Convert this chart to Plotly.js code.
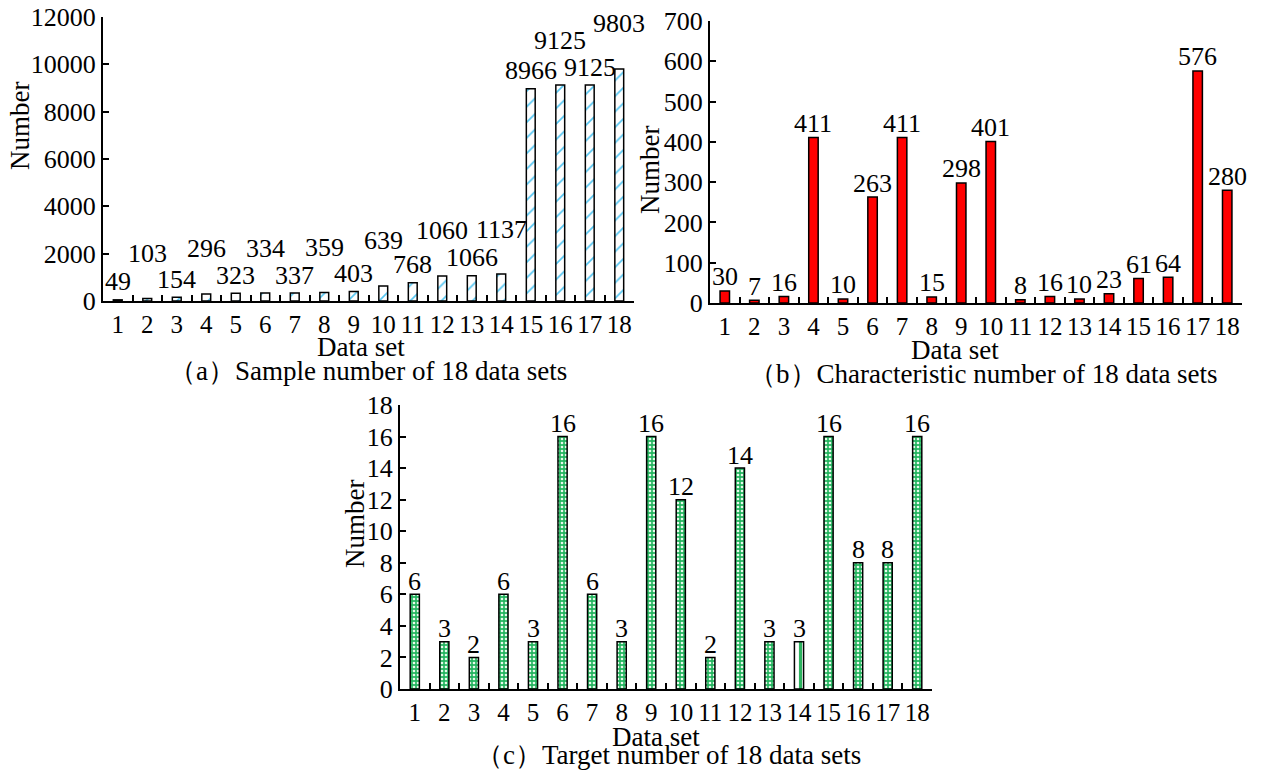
<!DOCTYPE html>
<html>
<head>
<meta charset="utf-8">
<script src="https://cdn.plot.ly/plotly-3.0.1.min.js"></script>
<style>html,body{margin:0;padding:0;background:#fff}#chart{width:1262px;height:770px}</style>
</head>
<body>
<div id="chart"></div>
<script>
// ---- data ----
const dataSets = ["1","2","3","4","5","6","7","8","9","10","11","12","13","14","15","16","17","18"];
const sampleCounts = [49,103,154,296,323,334,337,359,403,639,768,1060,1066,1137,8966,9125,9125,9803];
const featureCounts = [30,7,16,411,10,263,411,15,298,401,8,16,10,23,61,64,576,280];
const targetCounts = [6,3,2,6,3,16,6,3,16,12,2,14,3,3,16,8,8,16];
const captions = ["（a）Sample number of 18 data sets","（b）Characteristic number of 18 data sets","（c）Target number of 18 data sets"];
const xTitle = "Data set";
const yTitle = "Number";

// ---- style ----
const FONT = "'Liberation Serif', 'Times New Roman', Times, serif";
const FS = 26;
const W = 1262, H = 770;
const px = v => v / W;
const py = v => 1 - v / H;

function xAxis(l, r, anchor) {
  return {
    domain: [px(l), px(r)], anchor: anchor, type: 'category',
    range: [-0.5, 17.5], tickson: 'boundaries', dtick: 1, tickangle: 0,
    ticks: 'inside', ticklen: 6, tickwidth: 2, tickcolor: '#000',
    showline: true, linewidth: 2, linecolor: '#000',
    showgrid: false, zeroline: false,
    tickfont: {family: FONT, size: 25, color: '#000'},
    fixedrange: true
  };
}
function yAxis(top, bottom, anchor, max, dtick) {
  return {
    domain: [py(bottom), py(top)], anchor: anchor,
    range: [0, max], dtick: dtick, tick0: 0, tickformat: 'd',
    ticks: 'inside', ticklen: 6, tickwidth: 2, tickcolor: '#000',
    showline: true, linewidth: 2, linecolor: '#000',
    showgrid: false, zeroline: false,
    tickfont: {family: FONT, size: FS, color: '#000'},
    fixedrange: true
  };
}

const outline = {color: '#000', width: 1.5};
const oddStyleIndex = 13; // data set 14 drawn differently in panel (c)

const traces = [
  {
    type: 'bar', x: dataSets, y: sampleCounts, xaxis: 'x', yaxis: 'y', width: 0.3,
    marker: {color: '#fff', line: outline,
      pattern: {shape: '/', fgcolor: '#55c6f2', bgcolor: '#fff', size: 11, solidity: 0.15}},
    hoverinfo: 'x+y'
  },
  {
    type: 'bar', x: dataSets, y: featureCounts, xaxis: 'x2', yaxis: 'y2', width: 0.32,
    marker: {color: '#ff0000', line: outline},
    hoverinfo: 'x+y'
  },
  {
    type: 'bar', x: dataSets, y: targetCounts, xaxis: 'x3', yaxis: 'y3', width: 0.31,
    marker: {color: '#22b25c', line: outline,
      pattern: {
        shape: targetCounts.map((v, i) => i === oddStyleIndex ? '|' : '.'),
        fgcolor: targetCounts.map((v, i) => i === oddStyleIndex ? '#2db35f' : '#e8faec'),
        bgcolor: targetCounts.map((v, i) => i === oddStyleIndex ? '#ffffff' : '#25b560'),
        size: targetCounts.map((v, i) => i === oddStyleIndex ? 9 : 4),
        solidity: targetCounts.map((v, i) => i === oddStyleIndex ? 0.35 : 0.35)
      }},
    hoverinfo: 'x+y'
  }
];

const ann = [];
const lblFont = {family: FONT, size: FS, color: '#000'};
// data labels; x given as category index
sampleCounts.forEach((v, i) => {
  ann.push({x: i, y: v, xref: 'x', yref: 'y', text: String(v), showarrow: false,
    xanchor: 'center', yanchor: 'middle', yshift: (i % 2 === 0) ? 18 : 45, font: lblFont});
});
featureCounts.forEach((v, i) => {
  ann.push({x: i, y: v, xref: 'x2', yref: 'y2', text: String(v), showarrow: false,
    xanchor: 'center', yanchor: 'middle', yshift: 14, font: lblFont});
});
targetCounts.forEach((v, i) => {
  ann.push({x: i, y: v, xref: 'x3', yref: 'y3', text: String(v), showarrow: false,
    xanchor: 'center', yanchor: 'middle', yshift: 13, font: lblFont});
});
// axis titles and captions
const titleFont = {family: FONT, size: 27, color: '#000'};
[[20, 126], [650, 170], [355, 524]].forEach(p => {
  ann.push({x: px(p[0]), y: py(p[1]), xref: 'paper', yref: 'paper', text: yTitle, textangle: -90,
    showarrow: false, xanchor: 'center', yanchor: 'middle', font: titleFont});
});
[[361, 347], [955, 350], [656, 737]].forEach(p => {
  ann.push({x: px(p[0]), y: py(p[1]), xref: 'paper', yref: 'paper', text: xTitle,
    showarrow: false, xanchor: 'center', yanchor: 'middle', font: titleFont});
});
[[368, 371], [983, 374], [668, 755]].forEach((p, i) => {
  ann.push({x: px(p[0]), y: py(p[1]), xref: 'paper', yref: 'paper', text: captions[i],
    showarrow: false, xanchor: 'center', yanchor: 'middle', font: titleFont});
});

const layout = {
  width: W, height: H,
  margin: {l: 0, r: 0, t: 0, b: 0, pad: 0},
  paper_bgcolor: '#fff', plot_bgcolor: '#fff',
  showlegend: false,
  font: {family: FONT, size: FS, color: '#000'},
  xaxis: xAxis(103, 634, 'y'),
  yaxis: yAxis(17, 301, 'x', 12000, 2000),
  xaxis2: xAxis(710, 1242, 'y2'),
  yaxis2: yAxis(21, 303, 'x2', 700, 100),
  xaxis3: xAxis(400, 932, 'y3'),
  yaxis3: yAxis(405, 689, 'x3', 18, 2),
  annotations: ann
};

Plotly.newPlot('chart', traces, layout, {displayModeBar: false, staticPlot: true});
</script>
</body>
</html>
